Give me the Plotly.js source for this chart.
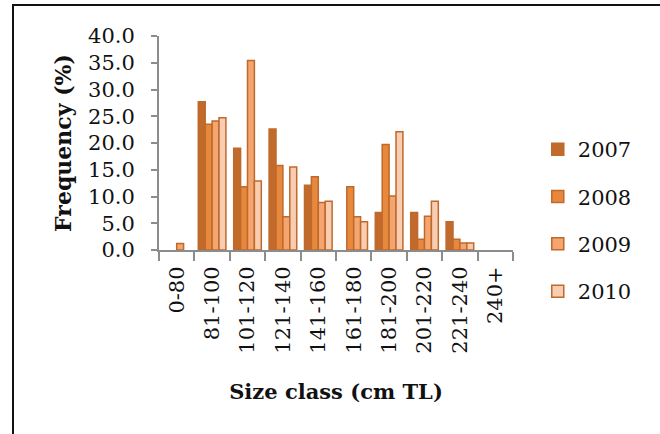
<!DOCTYPE html>
<html>
<head>
<meta charset="utf-8">
<script src="https://cdn.plot.ly/plotly-3.0.1.min.js"></script>
<style>
  html, body { margin: 0; padding: 0; background: #fff; }
  #wrap { position: relative; width: 660px; height: 434px; overflow: hidden; }
  #frame { position: absolute; left: 12px; top: 4px; width: 700px; height: 500px;
           border-left: 2px solid #111; border-top: 2px solid #111; pointer-events: none; }
  #chart { position: absolute; left: 0; top: 0; width: 660px; height: 434px; }
</style>
</head>
<body>
<div id="wrap">
  <div id="chart"></div>
  <div id="frame"></div>
</div>
<script>
const categories = ["0-80", "81-100", "101-120", "121-140", "141-160", "161-180", "181-200", "201-220", "221-240", "240+"];
const years = ["2007", "2008", "2009", "2010"];
const v2007 = [0, 27.7, 19.0, 22.6, 12.1, 0, 7.0, 7.0, 5.3, 0];
const v2008 = [0, 23.5, 11.8, 15.8, 13.7, 11.8, 19.7, 2.0, 2.0, 0];
const v2009 = [1.2, 24.1, 35.4, 6.2, 8.9, 6.2, 10.1, 6.3, 1.3, 0];
const v2010 = [0, 24.7, 12.9, 15.5, 9.1, 5.3, 22.1, 9.1, 1.3, 0];
const yTicks = [0, 5, 10, 15, 20, 25, 30, 35, 40];

const series = [v2007, v2008, v2009, v2010];
const fills = ["#C26A2B", "#E8883C", "#F5A56F", "#F9CDB2"];
const font = "DejaVu Serif, Liberation Serif, serif";

// zero-frequency classes have no visible bar in the reference, so they are left undrawn
const traces = series.map((vals, i) => ({
  type: "bar",
  name: years[i],
  x: categories,
  y: vals.map(v => (v > 0 ? v : null)),
  legendgroup: "g" + i,
  marker: { color: fills[i], line: { color: "#BE6A2C", width: 1.5 } }
}));

const layout = {
  width: 660, height: 434,
  margin: { l: 159, r: 147, t: 36, b: 184 },
  paper_bgcolor: "#fff", plot_bgcolor: "#fff",
  barmode: "group", bargap: 0.22, bargroupgap: 0,
  font: { family: font, color: "#111", size: 21 },
  xaxis: {
    type: "category",
    categoryorder: "array", categoryarray: categories,
    range: [-0.5, categories.length - 0.5],
    showgrid: false, zeroline: false,
    showline: true, linecolor: "#8c8c8c", linewidth: 2,
    ticks: "outside", tickson: "boundaries", ticklen: 9, tickwidth: 2, tickcolor: "#8c8c8c",
    tickangle: -90,
    ticklabelstandoff: 6,
    tickfont: { family: font, size: 21, color: "#111" },
    title: { text: "<b>Size class (cm TL)</b>", font: { family: font, size: 21, color: "#111" }, standoff: 32 }
  },
  yaxis: {
    range: [0, 40],
    tickvals: yTicks,
    tickformat: ".1f",
    showgrid: false, zeroline: false,
    showline: true, linecolor: "#8c8c8c", linewidth: 2,
    ticks: "outside", ticklen: 6, tickwidth: 2, tickcolor: "#8c8c8c",
    ticklabelstandoff: 12,
    tickfont: { family: font, size: 21, color: "#111" },
    title: { text: "<b>Frequency (%)</b>", font: { family: font, size: 22, color: "#111" }, standoff: 10 }
  },
  showlegend: true,
  legend: {
    x: 1.07, xanchor: "left", y: 0.565, yanchor: "top",
    font: { family: font, size: 21, color: "#111" },
    tracegroupgap: 17,
    bgcolor: "rgba(0,0,0,0)"
  }
};

Plotly.newPlot("chart", traces, layout, { displayModeBar: false, staticPlot: true });
</script>
</body>
</html>
